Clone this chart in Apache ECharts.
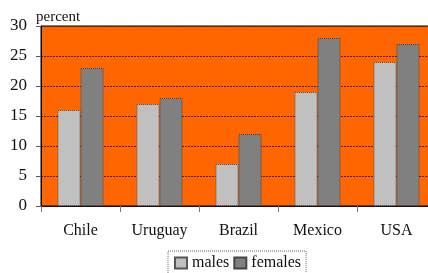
<!DOCTYPE html>
<html><head><meta charset="utf-8">
<script src="https://cdn.jsdelivr.net/npm/echarts@6/dist/echarts.min.js"></script>
<style>html,body{margin:0;padding:0;background:#fff}#c{width:428px;height:273px}</style>
</head><body><div id="c"></div>
<script>
const categories = ['Chile', 'Uruguay', 'Brazil', 'Mexico', 'USA'];
const males = [16, 17, 7, 19, 24];
const females = [23, 18, 12, 28, 27];
const yTicks = [0, 5, 10, 15, 20, 25, 30];

const chart = echarts.init(document.getElementById('c'), null, {renderer: 'canvas'});
const serif = '"Liberation Serif", "DejaVu Serif", serif';
chart.setOption({
  animation: false,
  backgroundColor: '#fff',
  grid: {left: 41, top: 26, width: 395, height: 180, show: true,
    outerBoundsMode: 'none', containLabel: false,
    backgroundColor: '#FF6600', borderColor: '#000', borderWidth: 1},
  legend: {
    left: 168, top: 251, padding: [4, 5, 3, 6],
    borderColor: '#666', borderWidth: 1, borderType: 'dotted',
    itemWidth: 12, itemHeight: 11, itemGap: 4,
    textStyle: {fontFamily: serif, fontSize: 16, color: '#111', padding: [0, 0, 0, 0]},
    data: [{name: 'males', icon: 'rect'}, {name: 'females', icon: 'rect'}]
  },
  xAxis: {
    type: 'category', data: categories,
    axisLine: {lineStyle: {color: '#111', width: 1}},
    axisTick: {show: true, length: 6, lineStyle: {color: '#777'}},
    axisLabel: {fontFamily: serif, fontSize: 16, color: '#111', margin: 17}
  },
  yAxis: {
    type: 'value', min: 0, max: 30, interval: 5,
    name: 'percent', nameLocation: 'end', nameGap: 1,
    nameTextStyle: {fontFamily: serif, fontSize: 15, color: '#111', align: 'left', padding: [0, 0, 0, -5]},
    axisLine: {show: true, lineStyle: {color: '#000', width: 1}},
    axisTick: {show: true, length: 5, lineStyle: {color: '#555'}},
    axisLabel: {fontFamily: serif, fontSize: 17, color: '#111', margin: 14,
      formatter: v => yTicks.includes(v) ? String(v) : ''},
    splitLine: {show: true, lineStyle: {color: '#4a2410', type: [2, 1], width: 1}}
  },
  series: [
    {name: 'males', type: 'bar', data: males, barWidth: 23, barGap: '0%',
     itemStyle: {color: '#C0C0C0', borderColor: '#555', borderWidth: 1, borderType: 'dotted'}},
    {name: 'females', type: 'bar', data: females, barWidth: 23,
     itemStyle: {color: '#808080', borderColor: '#444', borderWidth: 1, borderType: 'dotted'}}
  ]
});
</script></body></html>
